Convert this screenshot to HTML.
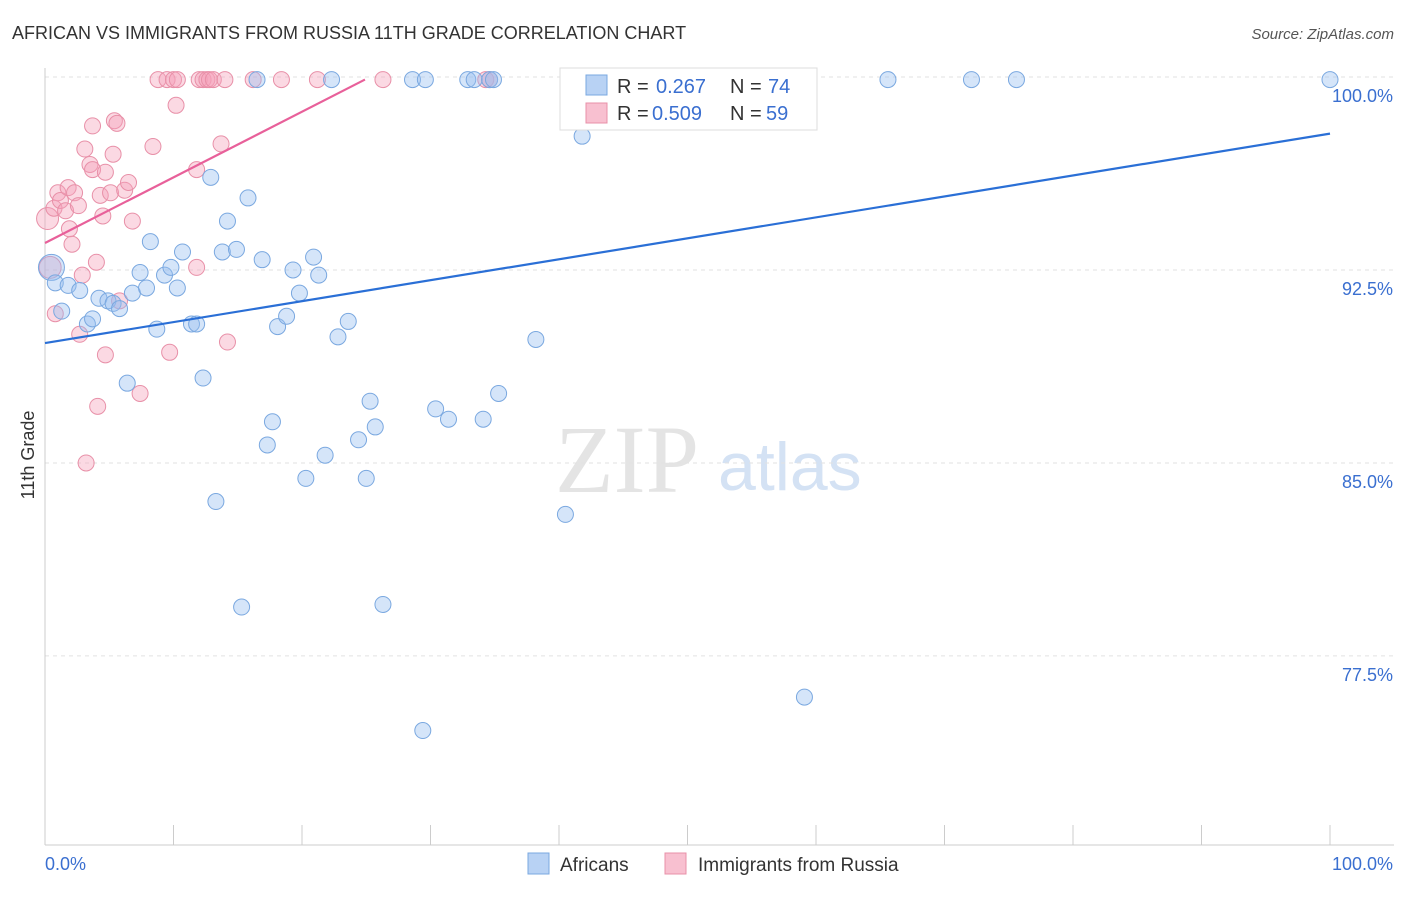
<!DOCTYPE html>
<html><head><meta charset="utf-8"><style>
body{margin:0;background:#fff;font-family:"Liberation Sans",sans-serif}
</style></head><body>
<svg id="c" width="1406" height="892" xmlns="http://www.w3.org/2000/svg">
<text x="12" y="39" font-size="18" fill="#333">AFRICAN VS IMMIGRANTS FROM RUSSIA 11TH GRADE CORRELATION CHART</text>
<text x="1394" y="39" font-size="15" fill="#555" text-anchor="end" font-style="italic">Source: ZipAtlas.com</text>
<text x="34" y="455" font-size="18" fill="#333" text-anchor="middle" transform="rotate(-90 34 455)">11th Grade</text>
<text x="555" y="492" font-size="96" fill="#e4e4e4" font-family="Liberation Serif,serif">ZIP</text>
<text x="718" y="490" font-size="68" fill="#d4e2f4">atlas</text>
<g id="grid"></g><g id="axes"></g><g id="pts"></g><g id="lines"></g>
<g>
<rect x="560" y="68" width="257" height="62" fill="#fff" stroke="#ddd"/>
<rect x="586" y="75" width="21" height="20" fill="#b8d2f4" stroke="#7aa8e0"/>
<rect x="586" y="103" width="21" height="20" fill="#f8c0d0" stroke="#e890a8"/>
<text x="617" y="93" font-size="20" fill="#333">R = </text><text x="656" y="93" font-size="20" fill="#3a6fd0">0.267</text>
<text x="730" y="93" font-size="20" fill="#333">N = </text><text x="768" y="93" font-size="20" fill="#3a6fd0">74</text>
<text x="617" y="120" font-size="20" fill="#333">R = </text><text x="652" y="120" font-size="20" fill="#3a6fd0">0.509</text>
<text x="730" y="120" font-size="20" fill="#333">N = </text><text x="766" y="120" font-size="20" fill="#3a6fd0">59</text>
</g>
<g>
<rect x="528" y="853" width="21" height="21" fill="#b8d2f4" stroke="#7aa8e0"/>
<text x="560" y="871" font-size="19" fill="#333">Africans</text>
<rect x="665" y="853" width="21" height="21" fill="#f8c0d0" stroke="#e890a8"/>
<text x="698" y="871" font-size="19" fill="#333">Immigrants from Russia</text>
</g>
</svg>
<script>
const yTicks=[100,92.5,85,77.5];
const yTickLabels=["100.0%","92.5%","85.0%","77.5%"];
const xTickCount=10;
const blueX=[0.5,0.8,1.3,1.8,2.7,3.3,3.7,4.2,4.9,5.3,5.8,6.4,6.8,7.4,7.9,8.2,8.7,9.3,9.8,10.3,10.7,11.4,11.8,12.3,12.9,13.3,13.8,14.2,14.9,15.3,15.8,16.5,16.9,17.3,17.7,18.1,18.8,19.3,19.8,20.3,20.9,21.3,21.8,22.3,22.8,23.6,24.4,25.0,25.3,25.7,26.3,28.6,29.4,29.6,30.4,31.4,32.9,33.4,34.1,34.6,34.9,35.3,38.2,40.5,41.8,42.4,52.4,55.5,59.1,65.6,72.1,75.6,100];
const blueY=[92.6,92.0,90.9,91.9,91.7,90.4,90.6,91.4,91.3,91.2,91.0,88.1,91.6,92.4,91.8,93.6,90.2,92.3,92.6,91.8,93.2,90.4,90.4,88.3,96.1,83.5,93.2,94.4,93.3,79.4,95.3,99.9,92.9,85.7,86.6,90.3,90.7,92.5,91.6,84.4,93.0,92.3,85.3,99.9,89.9,90.5,85.9,84.4,87.4,86.4,79.5,99.9,74.6,99.9,87.1,86.7,99.9,99.9,86.7,99.9,99.9,87.7,89.8,83.0,97.7,99.9,99.9,99.0,75.9,99.9,99.9,99.9,99.9];
const pinkX=[0.2,0.4,0.8,0.7,1.0,1.2,1.6,1.8,1.9,2.1,2.3,2.6,2.7,2.9,3.1,3.2,3.5,3.7,3.7,4.0,4.1,4.3,4.5,4.7,4.7,5.1,5.3,5.4,5.6,5.8,6.2,6.5,6.8,7.4,8.4,8.8,9.5,9.7,10.0,10.2,10.3,11.8,11.8,12.0,12.3,12.6,12.8,13.1,13.7,14.0,14.2,16.2,18.4,21.2,26.3,34.3,34.6,43.3];
const pinkY=[94.5,92.6,90.8,94.9,95.5,95.2,94.8,95.7,94.1,93.5,95.5,95.0,90.0,92.3,97.2,85.0,96.6,96.4,98.1,92.8,87.2,95.4,94.6,96.3,89.2,95.5,97.0,98.3,98.2,91.3,95.6,95.9,94.4,87.7,97.3,99.9,99.9,89.3,99.9,98.9,99.9,96.4,92.6,99.9,99.9,99.9,99.9,99.9,97.4,99.9,89.7,99.9,99.9,99.9,99.9,99.9,99.9,98.6];
const blueLineX=[0,100], blueLineY=[89.66,97.8];
const pinkLineX=[0,24.9], pinkLineY=[93.55,99.9];
const sx=v=>45+v*12.85, sy=v=>77+(100-v)*25.73;
const NS="http://www.w3.org/2000/svg";
function mk(p,t,a){const e=document.createElementNS(NS,t);for(const k in a)e.setAttribute(k,a[k]);document.getElementById(p).appendChild(e);return e;}
yTicks.forEach((v,i)=>{
 const l=mk('grid','line',{x1:45,x2:1394,y1:sy(v),y2:sy(v),stroke:'#e2e2e2','stroke-dasharray':'4,4'});
 
 
 const t=mk('grid','text',{x:1393,y:sy(v)+25,'font-size':18,fill:'#3a6fd0','text-anchor':'end'});
 t.textContent=yTickLabels[i];
 
 
});
let a=mk('axes','line',{x1:45,x2:45,y1:68,y2:845,stroke:'#ccc'});


a=mk('axes','line',{x1:45,x2:1394,y1:845,y2:845,stroke:'#ccc'});


for(let i=0;i<=xTickCount;i++){const x=sx(i*100/xTickCount);
 const t=mk('axes','line',{x1:x,x2:x,y1:825,y2:845,stroke:'#ccc'});
 
 }
let xl=mk('axes','text',{x:45,y:870,'font-size':18,fill:'#3a6fd0'});xl.textContent='0.0%';


xl=mk('axes','text',{x:1393,y:870,'font-size':18,fill:'#3a6fd0','text-anchor':'end'});xl.textContent='100.0%';


pinkX.forEach((v,i)=>{const c=mk('pts','circle',{cx:sx(v),cy:sy(pinkY[i]),r:i<2?11:8,fill:'rgba(244,160,186,0.4)',stroke:'#e890a8','stroke-width':1});
 
 });
blueX.forEach((v,i)=>{const c=mk('pts','circle',{cx:sx(v),cy:sy(blueY[i]),r:i<1?13:8,fill:'rgba(150,190,240,0.4)',stroke:'#7aa8e0','stroke-width':1});
 
 });
let ln=mk('lines','line',{x1:sx(blueLineX[0]),y1:sy(blueLineY[0]),x2:sx(blueLineX[1]),y2:sy(blueLineY[1]),stroke:'#2a6fd6','stroke-width':2.2});


ln=mk('lines','line',{x1:sx(pinkLineX[0]),y1:sy(pinkLineY[0]),x2:sx(pinkLineX[1]),y2:sy(pinkLineY[1]),stroke:'#e8609a','stroke-width':2.2});


</script>
</body></html>
